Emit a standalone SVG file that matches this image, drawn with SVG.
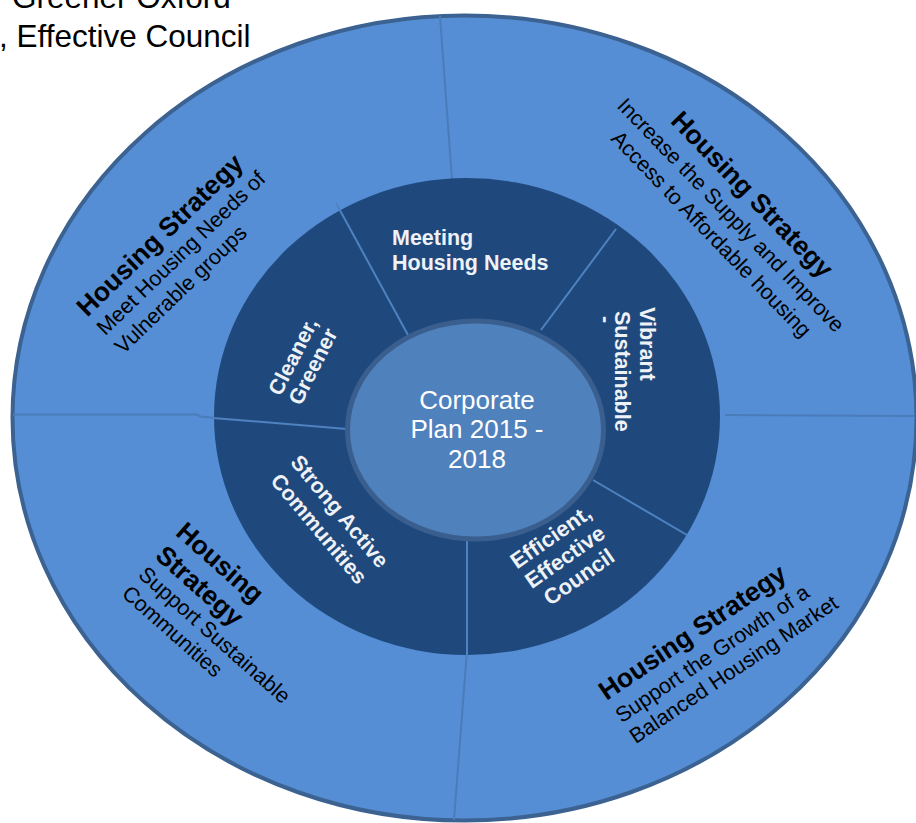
<svg xmlns="http://www.w3.org/2000/svg" width="916" height="823" viewBox="0 0 916 823">
<style>
.hdr{font-family:"Liberation Sans",Arial,sans-serif;font-size:31.5px;fill:#000}
.ob{font-family:"Liberation Sans",Arial,sans-serif;font-size:26.5px;font-weight:bold;fill:#000}
.or{font-family:"Liberation Sans",Arial,sans-serif;font-size:21.5px;fill:#000}
.ib{font-family:"Liberation Sans",Arial,sans-serif;font-size:21.5px;font-weight:bold;fill:#eef1f6}
.ct{font-family:"Liberation Sans",Arial,sans-serif;font-size:26px;fill:#fff;text-anchor:middle}
.div{stroke:#4a7cba;stroke-width:2;fill:none}
.divi{stroke:#4f82c0;stroke-width:2;fill:none}
</style>
<rect width="916" height="823" fill="#fff"/>
<g id="header">
<text class="hdr" x="12" y="8">Greener Oxford</text>
<text class="hdr" x="-1" y="47">, Effective Council</text>
</g>
<g id="outer-ring">
<ellipse cx="464.5" cy="418" rx="452" ry="402.5" fill="#558ed5" stroke="#3b6291" stroke-width="4"/>
</g>
<g id="connectors-outer">
<line class="div" x1="440" y1="16" x2="452" y2="180"/>
<line class="div" x1="725" y1="415" x2="914" y2="416"/>
<line class="div" x1="467" y1="650" x2="454" y2="820"/>
<polyline class="div" points="13,414.5 197,414.5 200,416.5 216,418"/>
</g>
<g id="inner-ring">
<ellipse cx="467" cy="416.5" rx="253" ry="238.5" fill="#1f497d"/>
</g>
<g id="connectors">
<line class="divi" x1="336" y1="203" x2="408" y2="335"/>
<line class="divi" x1="616" y1="229" x2="541" y2="330"/>
<line class="divi" x1="593" y1="480" x2="687" y2="535"/>
<line class="divi" x1="467" y1="540" x2="467" y2="656"/>
<line class="divi" x1="213" y1="418" x2="347" y2="429"/>
</g>
<g id="center">
<ellipse cx="475.5" cy="430" rx="128" ry="109" fill="#4f81bd" stroke="#3a5f8e" stroke-width="5"/>
<text class="ct" x="477" y="409">Corporate</text>
<text class="ct" x="477" y="438">Plan 2015 -</text>
<text class="ct" x="477" y="468">2018</text>
</g>
<g id="meeting-housing-needs">
<text class="ib" x="392" y="245">Meeting</text>
<text class="ib" x="392" y="270">Housing Needs</text>
</g>
<g id="cleaner-greener" transform="rotate(-63 302.9 361.4)">
<text class="ib" text-anchor="middle" x="302.9" y="357.6">Cleaner,</text>
<text class="ib" text-anchor="middle" x="302.9" y="379.9">Greener</text>
</g>
<g id="vibrant-sustainable" transform="rotate(90 640 307)">
<text class="ib" x="640" y="307">Vibrant</text>
<text class="ib" x="644" y="332">Sustainable</text>
<text class="ib" x="649" y="348">-</text>
</g>
<g id="strong-active-communities" transform="rotate(50 329.4 520)">
<text class="ib" text-anchor="middle" x="329.4" y="513.9">Strong Active</text>
<text class="ib" text-anchor="middle" x="329.4" y="540.9">Communities</text>
</g>
<g id="efficient-effective-council" transform="rotate(-35 564.8 556.7)">
<text class="ib" style="font-size:22px" text-anchor="middle" x="564.8" y="539.9">Efficient,</text>
<text class="ib" style="font-size:22px" text-anchor="middle" x="564.8" y="564.4">Effective</text>
<text class="ib" style="font-size:22px" text-anchor="middle" x="564.8" y="588.9">Council</text>
</g>
<g id="hs-vulnerable" transform="rotate(-44 100 331)">
<text class="ob" x="100" y="312.5">Housing Strategy</text>
<text class="or" x="100" y="338.4">Meet Housing Needs of</text>
<text class="or" x="100" y="364.4">Vulnerable groups</text>
</g>
<g id="hs-affordable" transform="rotate(46 731 215)">
<text class="ob" text-anchor="middle" x="731" y="194.6">Housing Strategy</text>
<text class="or" text-anchor="middle" x="731" y="222.4">Increase the Supply and Improve</text>
<text class="or" text-anchor="middle" x="731" y="249.6">Access to Affordable housing</text>
</g>
<g id="hs-communities" transform="rotate(41.5 154 557.5)">
<text class="ob" x="154" y="526.6">Housing</text>
<text class="ob" x="154" y="557.5">Strategy</text>
<text class="or" x="154" y="582.6">Support Sustainable</text>
<text class="or" x="154" y="607.8">Communities</text>
</g>
<g id="hs-market" transform="rotate(-34 617.5 717.3)">
<text class="ob" x="617.5" y="697.5">Housing Strategy</text>
<text class="or" x="617.5" y="724.8">Support the Growth of a</text>
<text class="or" x="617.5" y="749.8">Balanced Housing Market</text>
</g>
</svg>
